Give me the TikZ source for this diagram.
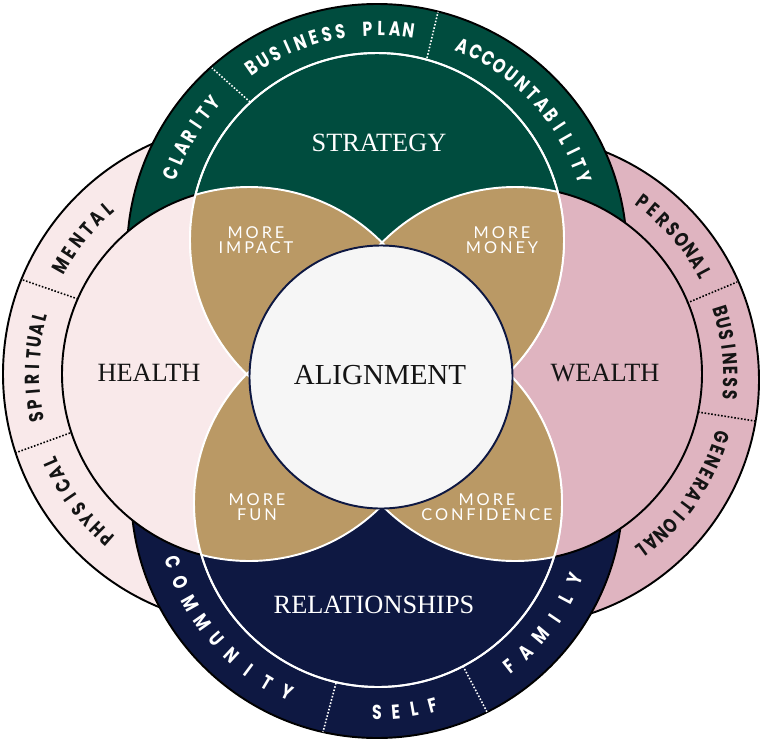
\documentclass[tikz,border=0pt]{standalone}
\usepackage{fontspec}
\usepackage{xcolor}
\usepackage{tikz}
\usetikzlibrary{positioning}

\newfontfamily\ringfont{Poppins}
\newfontfamily\petalfont{Lato}[LetterSpace=18]
\newfontfamily\titlefont{Liberation Serif}

\definecolor{stratgreen}{RGB}{0,76,62}
\definecolor{relnavy}{RGB}{14,24,66}
\definecolor{petalgold}{RGB}{186,153,101}
\definecolor{healthpink}{RGB}{249,233,234}
\definecolor{wealthpink}{RGB}{223,180,192}
\definecolor{centregray}{RGB}{246,246,246}
\definecolor{inkblack}{RGB}{20,20,20}

% letters spaced round a ring
\newcommand{\ringlabel}[7][]{%
  \foreach \ltr [count=\idx from 0] in {#7} {%
    \node[ringtxt, #1, rotate={#5+\idx*(#6)+90*sign(#6)}, xscale=0.78] (#2-\idx)
      at ([shift={({#5+\idx*(#6)}:#4)}]#3) {\ltr};
  }%
}

\begin{document}
\begin{tikzpicture}[
  x=0.02cm, y=0.02cm,
  rim/.style={draw=black, line width=1.1pt},
  lens/.style={draw=white, line width=1.1pt},
  headline/.style={font=\titlefont\fontsize{15}{15}\selectfont, inner sep=0pt},
  petal/.style={font=\petalfont\fontsize{9.3}{8.8}\selectfont, align=center, text=white, inner sep=0pt},
  ringtxt/.style={font=\ringfont\bfseries\fontsize{11.5}{11.5}\selectfont, inner sep=0pt},
  divider/.style={densely dotted, line width=0.9pt}
]

  % Background
  \fill[white] (0,0) rectangle (768,-748);

  % Outer rings
  \filldraw[rim, fill=healthpink] (255,-374) circle[radius=252];
  \filldraw[rim, fill=wealthpink] (513,-380) circle[radius=246];
  \filldraw[rim, fill=stratgreen] (377,-254) circle[radius=250];
  \filldraw[rim, fill=relnavy] (377,-492) circle[radius=246];

  % Side discs
  \filldraw[rim, fill=healthpink] (249,-374) circle[radius=187];
  \filldraw[rim, fill=wealthpink] (515,-374) circle[radius=187];

  % Top and bottom discs
  \filldraw[lens, fill=stratgreen] (377,-240) circle[radius=187];
  \filldraw[lens, fill=relnavy] (378,-503) circle[radius=184];

  % Gold overlaps
  \begin{scope}
    \clip (377,-240) circle[radius=187] (378,-503) circle[radius=184];
    \fill[petalgold] (249,-374) circle[radius=187];
    \fill[petalgold] (515,-374) circle[radius=187];
    \draw[lens] (249,-374) circle[radius=187];
    \draw[lens] (515,-374) circle[radius=187];
  \end{scope}
  \draw[lens] (377,-240) circle[radius=187];
  \draw[lens] (378,-503) circle[radius=184];

  % Centre
  \filldraw[fill=centregray, draw=relnavy, line width=1.1pt] (381,-377) circle[radius=131.5];

  % Ring dividers
  \draw[divider, white] (250,-102) -- (212,-68);
  \draw[divider, white] (427,-58) -- (438,-12);
  \draw[divider, black] (78,-299) -- (23,-280);
  \draw[divider, black] (70,-433) -- (15,-453);
  \draw[divider, black] (687,-303) -- (737,-282);
  \draw[divider, black] (698,-412) -- (755,-421);
  \draw[divider, white] (336,-683) -- (323,-732);
  \draw[divider, white] (463,-666) -- (487,-712);

  % Titles
  \node[headline, text=white] (strategy) at (379,-143) {STRATEGY};
  \node[headline, text=inkblack] (health) at (149,-373) {HEALTH};
  \node[headline, text=inkblack] (wealth) at (605,-373) {WEALTH};
  \node[headline, text=white] (relationships) at (374,-605) {RELATIONSHIPS};
  \node[headline, text=inkblack, font=\titlefont\fontsize{16.5}{16.5}\selectfont] (alignment) at (380,-375) {ALIGNMENT};

  % Overlap labels
  \node[petal] (impact) at (256,-240) {MORE\\IMPACT};
  \node[petal] (money) at (502,-240) {MORE\\MONEY};
  \node[petal] (fun) at (257,-507) {MORE\\FUN};
  \node[petal] (confidence) at (487,-507) {MORE\\CONFIDENCE};

  % Ring labels
  \coordinate (stratring) at (377,-247);
  \coordinate (healthring) at (252,-374);
  \coordinate (wealthring) at (514,-376);
  \coordinate (relring) at (377,-498.5);

  \ringlabel[text=white]{clarity}{stratring}{218.5}{160.3}{-3.6}{C,L,A,R,I,T,Y}
  \ringlabel[text=white]{plan}{stratring}{218.5}{124.9}{-3.6}{B,U,S,I,N,E,S,S,{},P,L,A,N}
  \ringlabel[text=white]{account}{stratring}{218.5}{66.9}{-3.72}{A,C,C,O,U,N,T,A,B,I,L,I,T,Y}
  \ringlabel[text=inkblack]{mental}{healthring}{219.5}{150.4}{-3.86}{M,E,N,T,A,L}
  \ringlabel[text=inkblack]{spiritual}{healthring}{219.5}{191.3}{-3.28}{S,P,I,R,I,T,U,A,L}
  \ringlabel[text=inkblack]{physical}{healthring}{219.5}{228.7}{-3.6}{P,H,Y,S,I,C,A,L}
  \ringlabel[text=inkblack]{personal}{wealthring}{216.5}{53.6}{-3.64}{P,E,R,S,O,N,A,L}
  \ringlabel[text=inkblack]{business}{wealthring}{216.5}{17.4}{-3.2}{B,U,S,I,N,E,S,S}
  \ringlabel[text=inkblack]{generational}{wealthring}{216.5}{-16.5}{-3.4}{G,E,N,E,R,A,T,I,O,N,A,L}
  \ringlabel[text=white]{community}{relring}{214}{197.2}{6}{C,O,M,M,U,N,I,T,Y}
  \ringlabel[text=white]{self}{relring}{214}{270}{5}{S,E,L,F}
  \ringlabel[text=white]{family}{relring}{214}{308.2}{5.94}{F,A,M,I,L,Y}

\end{tikzpicture}
\end{document}
